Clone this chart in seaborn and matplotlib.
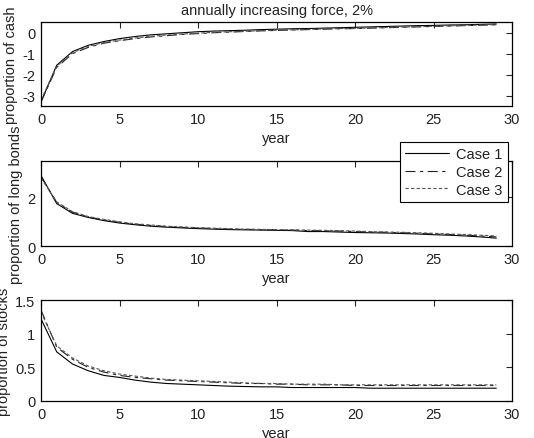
import numpy as np
import pandas as pd
import matplotlib
matplotlib.use("Agg")
import matplotlib.pyplot as plt
import seaborn as sns

years = list(range(30))

cash_case1 = [-3.3, -1.55, -0.9, -0.6, -0.42, -0.28, -0.18, -0.1, -0.05, 0.0,
              0.05, 0.08, 0.1, 0.12, 0.15, 0.17, 0.19, 0.2, 0.22, 0.24,
              0.26, 0.28, 0.3, 0.32, 0.34, 0.35, 0.37, 0.38, 0.4, 0.42]
cash_case2 = [-3.3, -1.65, -1.0, -0.7, -0.5, -0.38, -0.28, -0.2, -0.14, -0.08,
              -0.04, 0.0, 0.03, 0.06, 0.09, 0.11, 0.13, 0.15, 0.17, 0.19,
              0.2, 0.22, 0.24, 0.26, 0.28, 0.3, 0.32, 0.34, 0.36, 0.38]
cash_case3 = [-3.2, -1.6, -0.95, -0.65, -0.47, -0.35, -0.25, -0.17, -0.11, -0.06,
              -0.02, 0.02, 0.05, 0.07, 0.1, 0.12, 0.14, 0.16, 0.18, 0.2,
              0.21, 0.23, 0.25, 0.27, 0.29, 0.31, 0.33, 0.35, 0.37, 0.39]

bonds_case1 = [2.9, 1.75, 1.35, 1.18, 1.05, 0.95, 0.88, 0.82, 0.78, 0.75,
               0.72, 0.7, 0.68, 0.67, 0.66, 0.65, 0.64, 0.6, 0.6, 0.58,
               0.56, 0.55, 0.54, 0.52, 0.5, 0.47, 0.45, 0.42, 0.38, 0.33]
bonds_case2 = [2.85, 1.8, 1.4, 1.2, 1.08, 0.98, 0.9, 0.85, 0.8, 0.77,
               0.75, 0.72, 0.7, 0.69, 0.68, 0.67, 0.66, 0.64, 0.63, 0.62,
               0.6, 0.58, 0.57, 0.55, 0.53, 0.5, 0.48, 0.45, 0.42, 0.38]
bonds_case3 = [2.8, 1.82, 1.42, 1.22, 1.1, 1.0, 0.92, 0.87, 0.82, 0.79,
               0.76, 0.74, 0.72, 0.7, 0.69, 0.68, 0.67, 0.66, 0.65, 0.64,
               0.62, 0.6, 0.58, 0.57, 0.55, 0.53, 0.5, 0.48, 0.45, 0.42]

stocks_case1 = [1.22, 0.73, 0.55, 0.45, 0.38, 0.35, 0.31, 0.28, 0.26, 0.25,
                0.24, 0.23, 0.22, 0.215, 0.21, 0.21, 0.2, 0.2, 0.2, 0.2,
                0.2, 0.19, 0.19, 0.19, 0.19, 0.19, 0.19, 0.19, 0.19, 0.19]
stocks_case2 = [1.35, 0.8, 0.62, 0.5, 0.43, 0.38, 0.35, 0.33, 0.31, 0.3,
                0.29, 0.28, 0.27, 0.26, 0.26, 0.25, 0.25, 0.24, 0.24, 0.24,
                0.23, 0.23, 0.23, 0.23, 0.23, 0.23, 0.23, 0.23, 0.23, 0.23]
stocks_case3 = [1.32, 0.82, 0.64, 0.52, 0.45, 0.4, 0.37, 0.34, 0.32, 0.31,
                0.3, 0.29, 0.28, 0.27, 0.26, 0.26, 0.25, 0.25, 0.25, 0.24,
                0.24, 0.24, 0.24, 0.24, 0.24, 0.24, 0.24, 0.24, 0.24, 0.24]

case_names = ["Case 1", "Case 2", "Case 3"]

sns.set_style("white")
plt.rcParams["font.family"] = ["Liberation Sans", "DejaVu Sans"]
plt.rcParams["font.size"] = 10.5
plt.rcParams["text.color"] = "#222222"
plt.rcParams["axes.labelcolor"] = "#222222"

fig = plt.figure(figsize=(5.34, 4.39), dpi=100)

panels = [
    ([0.0768, 0.756, 0.882, 0.191], [cash_case1, cash_case2, cash_case3],
     "proportion of cash", (-3.5, 0.5), [-3, -2, -1, 0], ["-3", "-2", "-1", "0"]),
    ([0.0768, 0.437, 0.882, 0.194], [bonds_case1, bonds_case2, bonds_case3],
     "proportion of long bonds", (0, 3.5), [0, 2], ["0", "2"]),
    ([0.0768, 0.0843, 0.882, 0.230], [stocks_case1, stocks_case2, stocks_case3],
     "proportion of stocks", (0, 1.5), [0, 0.5, 1, 1.5], ["0", "0.5", "1", "1.5"]),
]

styles = [
    dict(color="black", linestyle="-", linewidth=0.8),
    dict(color="#222222", linestyle=(0, (9, 4, 3, 4)), linewidth=0.8),
    dict(color="#555555", linestyle=(0, (3, 2)), linewidth=0.8),
]

axes = []
for rect, series, ylabel, ylim, yticks, yticklabels in panels:
    ax = fig.add_axes(rect)
    for name, vals, st in zip(case_names, series, styles):
        sns.lineplot(x=years, y=vals, ax=ax, label=name, **st)
    ax.set_xlim(0, 30)
    ax.set_ylim(*ylim)
    ax.set_xticks([0, 5, 10, 15, 20, 25, 30])
    ax.set_yticks(yticks)
    ax.set_yticklabels(yticklabels)
    ax.set_xlabel("year", labelpad=4)
    ax.set_ylabel(ylabel, labelpad=3)
    ax.tick_params(direction="in", top=True, right=True, length=4, width=0.8,
                   labelsize=10.5, pad=4, labelcolor="#222222")
    for sp in ax.spines.values():
        sp.set_color("black")
        sp.set_linewidth(0.9)
    ax.get_legend().remove()
    axes.append(ax)

axes[0].set_title("annually increasing force, 2%", fontsize=10.5, pad=6)

leg = axes[1].legend(loc="upper right", bbox_to_anchor=(0.951, 0.674),
                     bbox_transform=fig.transFigure, borderaxespad=0,
                     fancybox=False, framealpha=1, edgecolor="black",
                     fontsize=10.5, handlelength=3.0, labelspacing=0.25,
                     borderpad=0.35, handletextpad=0.5)
leg.get_frame().set_linewidth(0.8)

fig.savefig("out.png", dpi=100)
